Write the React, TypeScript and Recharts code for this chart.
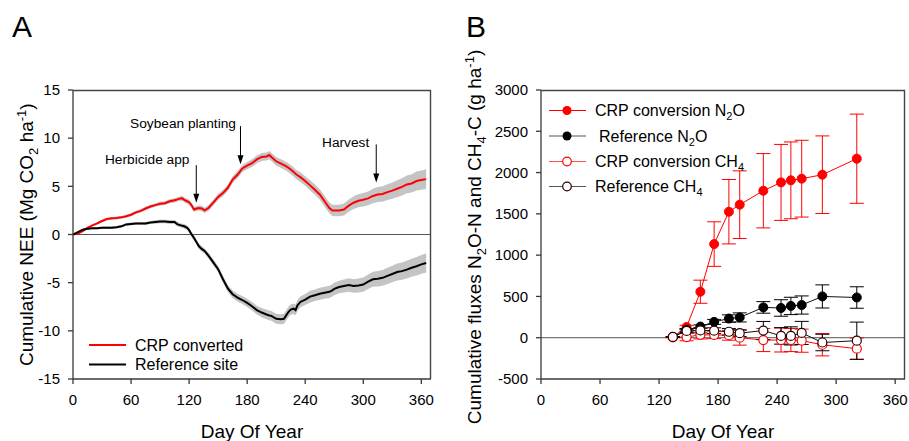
import React from 'react';
import {
  ComposedChart,
  Line,
  Area,
  XAxis,
  YAxis,
  ReferenceLine,
  ReferenceDot,
  ErrorBar,
} from 'recharts';

const FONT = '"Liberation Sans", Arial, Helvetica, sans-serif';

// ---------- Panel A: cumulative NEE ----------
const neeDays = [
  0, 5, 10, 15, 20, 25, 30, 35, 40, 45,
  50, 55, 60, 65, 70, 75, 80, 85, 90, 95,
  100, 105, 108, 110, 113, 115, 118, 120, 122, 123,
  125, 128, 130, 133, 136, 140, 145, 150, 155, 160,
  165, 170, 175, 180, 185, 190, 195, 200, 203, 205,
  210, 215, 218, 220, 223, 225, 228, 230, 232, 235,
  240, 245, 250, 255, 260, 265, 268, 270, 275, 280,
  285, 290, 295, 300, 305, 310, 315, 320, 325, 330,
  335, 340, 345, 350, 355, 360, 365,
];

const crpNee = [
  0, 0.1, 0.35, 0.7, 0.95, 1.15, 1.4, 1.6, 1.68, 1.72,
  1.78, 1.9, 2.05, 2.3, 2.45, 2.7, 2.9, 3.05, 3.2, 3.25,
  3.45, 3.55, 3.65, 3.72, 3.75, 3.6, 3.45, 3.35, 3.1, 2.95,
  2.6, 2.7, 2.75, 2.7, 2.5, 2.75, 3.3, 3.9, 4.3, 4.85,
  5.7, 6.2, 6.85, 7.15, 7.4, 7.8, 8.05, 8.1, 8.25, 8.05,
  7.6, 7.35, 7.2, 7.1, 6.9, 6.75, 6.5, 6.3, 6.15, 5.95,
  5.55, 5.1, 4.65, 4.15, 3.45, 2.75, 2.5, 2.5, 2.5, 2.6,
  3.0, 3.3, 3.5, 3.6, 3.75, 4.0, 4.15, 4.2, 4.4, 4.55,
  4.75, 4.95, 5.2, 5.3, 5.55, 5.65, 5.75,
];

const refNee = [
  0, 0.25, 0.5, 0.6, 0.65, 0.65, 0.7, 0.7, 0.7, 0.75,
  0.85, 1.05, 1.1, 1.15, 1.15, 1.15, 1.25, 1.3, 1.35, 1.35,
  1.3, 1.3, 1.05, 1.0, 0.9, 0.85, 0.7, 0.45, 0.1, -0.05,
  -0.35, -0.85, -1.2, -1.5, -1.7, -2.2, -2.9, -3.6, -4.65, -5.6,
  -6.2, -6.55, -6.8, -7.1, -7.45, -7.85, -8.1, -8.3, -8.4, -8.45,
  -8.75, -8.8, -8.75, -8.45, -8.0, -7.8, -7.7, -7.85, -7.35, -7.0,
  -6.75, -6.45, -6.3, -6.15, -6.05, -5.95, -5.8, -5.65, -5.45, -5.35,
  -5.25, -5.35, -5.3, -5.2, -4.9, -4.65, -4.6, -4.5, -4.3, -4.1,
  -3.9, -3.8, -3.65, -3.45, -3.3, -3.1, -2.95,
];

const crpNeeSd = [
  0, 0.05, 0.08, 0.1, 0.1, 0.12, 0.12, 0.12, 0.14, 0.14,
  0.15, 0.15, 0.15, 0.16, 0.16, 0.18, 0.18, 0.18, 0.2, 0.2,
  0.2, 0.22, 0.22, 0.22, 0.24, 0.24, 0.25, 0.25, 0.25, 0.26,
  0.26, 0.27, 0.27, 0.28, 0.28, 0.3, 0.3, 0.32, 0.32, 0.34,
  0.35, 0.36, 0.37, 0.38, 0.4, 0.4, 0.42, 0.42, 0.43, 0.43,
  0.44, 0.45, 0.45, 0.46, 0.46, 0.47, 0.47, 0.48, 0.48, 0.5,
  0.5, 0.52, 0.53, 0.55, 0.56, 0.58, 0.58, 0.6, 0.6, 0.62,
  0.64, 0.66, 0.68, 0.7, 0.72, 0.75, 0.78, 0.8, 0.82, 0.85,
  0.88, 0.9, 0.92, 0.95, 0.98, 1.0, 1.02,
];

const refNeeSd = [
  0, 0.05, 0.08, 0.1, 0.1, 0.1, 0.12, 0.12, 0.12, 0.12,
  0.14, 0.14, 0.15, 0.15, 0.15, 0.16, 0.16, 0.18, 0.18, 0.18,
  0.2, 0.2, 0.22, 0.22, 0.22, 0.24, 0.24, 0.25, 0.25, 0.25,
  0.26, 0.26, 0.27, 0.28, 0.28, 0.3, 0.32, 0.33, 0.35, 0.36,
  0.38, 0.4, 0.42, 0.43, 0.45, 0.46, 0.48, 0.5, 0.5, 0.5,
  0.52, 0.52, 0.53, 0.53, 0.54, 0.54, 0.55, 0.55, 0.56, 0.56,
  0.58, 0.6, 0.6, 0.62, 0.62, 0.64, 0.64, 0.65, 0.66, 0.68,
  0.7, 0.7, 0.72, 0.74, 0.76, 0.78, 0.8, 0.82, 0.84, 0.86,
  0.88, 0.9, 0.92, 0.94, 0.96, 0.98, 1.0,
];

const dayTicks = [0, 60, 120, 180, 240, 300, 360];
const neeTicks = [-15, -10, -5, 0, 5, 10, 15];

const events = [
  { label: 'Herbicide app', day: 127.4, from: 7.2, to: 3.3, textDay: 76.7, textY: 7.27 },
  { label: 'Soybean planting', day: 173.1, from: 11.25, to: 7.3, textDay: 113.7, textY: 11.04 },
  { label: 'Harvest', day: 313.4, from: 9.35, to: 5.4, textDay: 281.8, textY: 9.07 },
];

// ---------- Panel B: cumulative N2O / CH4 fluxes ----------
const fluxDays = [134, 148, 162, 176, 191, 202, 226, 244, 254, 265, 286, 321];
const crpN2O = [10, 130, 557, 1134, 1526, 1611, 1780, 1881, 1906, 1926, 1974, 2168];
const crpN2OErr = [5, 20, 140, 270, 390, 410, 450, 460, 465, 465, 470, 540];
const refN2O = [8, 95, 135, 192, 232, 246, 367, 360, 385, 396, 500, 487];
const refN2OErr = [5, 15, 20, 30, 45, 55, 70, 100, 105, 110, 140, 130];
const crpCH4 = [5, 8, 35, 34, 30, 0, -28, -28, -28, -36, -85, -133];
const crpCH4Err = [5, 45, 50, 45, 60, 90, 140, 145, 140, 140, 135, 130];
const refCH4 = [10, 82, 88, 85, 72, 55, 87, 22, 22, 58, -58, -36];
const refCH4Err = [5, 20, 30, 35, 40, 40, 110, 100, 110, 140, 100, 225];
const fluxTicks = [-500, 0, 500, 1000, 1500, 2000, 2500, 3000];

const neeData = neeDays.map((d, i) => ({
  day: d,
  crp: crpNee[i],
  ref: refNee[i],
  crpBand: [crpNee[i] - crpNeeSd[i], crpNee[i] + crpNeeSd[i]],
  refBand: [refNee[i] - refNeeSd[i], refNee[i] + refNeeSd[i]],
}));

const fluxData = fluxDays.map((d, i) => ({
  day: d,
  crpN2O: crpN2O[i],
  crpN2OErr: crpN2OErr[i],
  refN2O: refN2O[i],
  refN2OErr: refN2OErr[i],
  crpCH4: crpCH4[i],
  crpCH4Err: crpCH4Err[i],
  refCH4: refCH4[i],
  refCH4Err: refCH4Err[i],
}));

const AXIS = '#3a3a3a';
const tickStyle = { fill: '#000', fontSize: 15, fontFamily: FONT };

const ArrowHead = (props: any) => {
  const { cx, cy } = props;
  if (cx == null || cy == null) return <g />;
  return <path d={`M${cx - 3},${cy - 9} L${cx + 3},${cy - 9} L${cx},${cy} Z`} fill="#000" />;
};

const makeLabel = (text: string) => (props: any) => {
  const { cx, cy } = props;
  if (cx == null || cy == null) return <g />;
  return (
    <text x={cx} y={cy} textAnchor="middle" fontSize={13.7} fontFamily={FONT} fill="#000">
      {text}
    </text>
  );
};

const PanelA = () => (
  <ComposedChart
    width={455}
    height={441}
    data={neeData}
    margin={{ top: 90, right: 24, bottom: 12, left: 13 }}
  >
    <XAxis
      type="number"
      dataKey="day"
      domain={[0, 370]}
      ticks={dayTicks}
      allowDataOverflow
      tickSize={5}
      tickMargin={10}
      height={50}
      stroke={AXIS}
      strokeWidth={1.3}
      tick={tickStyle}
    />
    <YAxis
      type="number"
      domain={[-15, 15]}
      ticks={neeTicks}
      allowDataOverflow
      width={60}
      tickSize={5}
      tickMargin={8}
      stroke={AXIS}
      strokeWidth={1.3}
      tick={tickStyle}
    />
    <ReferenceLine y={0} stroke="#555" strokeWidth={1} />
    <Area
      dataKey="crpBand"
      stroke="none"
      fill="#c4c4c4"
      fillOpacity={1}
      isAnimationActive={false}
      activeDot={false}
    />
    <Area
      dataKey="refBand"
      stroke="none"
      fill="#c4c4c4"
      fillOpacity={1}
      isAnimationActive={false}
      activeDot={false}
    />
    <Line dataKey="crp" stroke="#ff0000" strokeWidth={2} dot={false} isAnimationActive={false} />
    <Line dataKey="ref" stroke="#000" strokeWidth={2} dot={false} isAnimationActive={false} />
    {events.map((e) => (
      <ReferenceLine
        key={e.label + 'l'}
        segment={[
          { x: e.day, y: e.from },
          { x: e.day, y: e.to + 0.6 },
        ]}
        stroke="#000"
        strokeWidth={1}
      />
    ))}
    {events.map((e) => (
      <ReferenceDot key={e.label + 'a'} x={e.day} y={e.to} r={0} shape={ArrowHead} />
    ))}
    {events.map((e) => (
      <ReferenceDot key={e.label + 't'} x={e.textDay} y={e.textY} r={0} shape={makeLabel(e.label)} />
    ))}
  </ComposedChart>
);

const PanelB = () => (
  <ComposedChart
    width={454}
    height={441}
    data={fluxData}
    margin={{ top: 90, right: 4, bottom: 12, left: 16 }}
  >
    <XAxis
      type="number"
      dataKey="day"
      domain={[0, 370]}
      ticks={dayTicks}
      allowDataOverflow
      tickSize={5}
      tickMargin={10}
      height={50}
      stroke={AXIS}
      strokeWidth={1.3}
      tick={tickStyle}
    />
    <YAxis
      type="number"
      domain={[-500, 3000]}
      ticks={fluxTicks}
      allowDataOverflow
      width={70}
      tickSize={5}
      tickMargin={8}
      stroke={AXIS}
      strokeWidth={1.3}
      tick={tickStyle}
    />
    <ReferenceLine y={0} stroke="#555" strokeWidth={1} />
    <Line
      dataKey="crpN2O"
      stroke="#ff0000"
      strokeWidth={1}
      dot={{ r: 4.5, fill: '#ff0000', stroke: '#ff0000', strokeWidth: 1 }}
      activeDot={false}
      isAnimationActive={false}
    >
      <ErrorBar dataKey="crpN2OErr" width={7} stroke="#ff0000" strokeWidth={1} direction="y" />
    </Line>
    <Line
      dataKey="refN2O"
      stroke="#111"
      strokeWidth={1}
      dot={{ r: 4.5, fill: '#000', stroke: '#000', strokeWidth: 1 }}
      activeDot={false}
      isAnimationActive={false}
    >
      <ErrorBar dataKey="refN2OErr" width={7} stroke="#000" strokeWidth={1} direction="y" />
    </Line>
    <Line
      dataKey="crpCH4"
      stroke="#ff0000"
      strokeWidth={1}
      dot={{ r: 4.5, fill: '#fff', stroke: '#ff0000', strokeWidth: 1.2 }}
      activeDot={false}
      isAnimationActive={false}
    >
      <ErrorBar dataKey="crpCH4Err" width={7} stroke="#ff0000" strokeWidth={1} direction="y" />
    </Line>
    <Line
      dataKey="refCH4"
      stroke="#111"
      strokeWidth={1}
      dot={{ r: 4.5, fill: '#fff', stroke: '#2a0000', strokeWidth: 1.2 }}
      activeDot={false}
      isAnimationActive={false}
    >
      <ErrorBar dataKey="refCH4Err" width={7} stroke="#000" strokeWidth={1} direction="y" />
    </Line>
  </ComposedChart>
);

const Overlay = () => (
  <svg
    width={909}
    height={441}
    style={{ position: 'absolute', left: 0, top: 0, pointerEvents: 'none' }}
    fontFamily={FONT}
  >
    {/* Plot frames (top and right sides) */}
    <path d="M73,90.5 H430.5 V379" fill="none" stroke="#444" strokeWidth={1.4} />
    <path d="M541,90.5 H904.5 V379" fill="none" stroke="#444" strokeWidth={1.4} />

    <text x={12} y={36.7} fontSize={30} fill="#000">A</text>
    <text x={466} y={36.7} fontSize={30} fill="#000">B</text>

    {/* Axis titles */}
    <text x={252} y={437.5} fontSize={19} textAnchor="middle" fill="#000">Day Of Year</text>
    <text x={723} y={437.5} fontSize={19} textAnchor="middle" fill="#000">Day Of Year</text>

    <text transform="translate(32.5,234.7) rotate(-90)" fontSize={19} textAnchor="middle" fill="#000">
      Cumulative NEE (Mg CO<tspan dy={5} fontSize={13}>2</tspan>
      <tspan dy={-5}> ha</tspan>
      <tspan dy={-7} fontSize={13}>-1</tspan>
      <tspan dy={7}>)</tspan>
    </text>

    <text transform="translate(480.7,237) rotate(-90)" fontSize={19} textAnchor="middle" fill="#000">
      Cumulative fluxes N<tspan dy={5} fontSize={13}>2</tspan>
      <tspan dy={-5}>O-N and CH</tspan>
      <tspan dy={5} fontSize={13}>4</tspan>
      <tspan dy={-5}>-C (g ha</tspan>
      <tspan dy={-7} fontSize={13}>-1</tspan>
      <tspan dy={7}>)</tspan>
    </text>

    {/* Legend A */}
    <line x1={89} x2={126} y1={345} y2={345} stroke="#ff0000" strokeWidth={2} />
    <text x={135} y={350.7} fontSize={16} fill="#000">CRP converted</text>
    <line x1={89} x2={126} y1={364.5} y2={364.5} stroke="#000" strokeWidth={2} />
    <text x={135} y={370} fontSize={16} fill="#000">Reference site</text>

    {/* Legend B */}
    <line x1={549} x2={586} y1={110.5} y2={110.5} stroke="#ff0000" strokeWidth={1.2} />
    <circle cx={567} cy={110.5} r={4.5} fill="#ff0000" />
    <text x={595} y={116} fontSize={16} fill="#000">
      CRP conversion N<tspan dy={4} fontSize={11}>2</tspan>
      <tspan dy={-4}>O</tspan>
    </text>

    <line x1={549} x2={586} y1={136} y2={136} stroke="#555" strokeWidth={1.2} />
    <circle cx={567} cy={136} r={4.5} fill="#000" />
    <text x={599} y={141.5} fontSize={16} fill="#000">
      Reference N<tspan dy={4} fontSize={11}>2</tspan>
      <tspan dy={-4}>O</tspan>
    </text>

    <line x1={549} x2={586} y1={161.5} y2={161.5} stroke="#ff5050" strokeWidth={1.2} />
    <circle cx={567} cy={161.5} r={4.3} fill="#fff" stroke="#ff0000" strokeWidth={1.2} />
    <text x={595} y={167} fontSize={16} fill="#000">
      CRP conversion CH<tspan dy={4} fontSize={11}>4</tspan>
    </text>

    <line x1={549} x2={586} y1={186.5} y2={186.5} stroke="#555" strokeWidth={1.2} />
    <circle cx={567} cy={186.5} r={4.3} fill="#fff" stroke="#2a0000" strokeWidth={1.2} />
    <text x={595} y={192} fontSize={16} fill="#000">
      Reference CH<tspan dy={4} fontSize={11}>4</tspan>
    </text>
  </svg>
);

export default function App() {
  return (
    <div
      style={{
        position: 'absolute',
        left: 0,
        top: 0,
        width: 909,
        height: 441,
        background: '#fff',
        fontFamily: FONT,
        overflow: 'hidden',
      }}
    >
      <div style={{ position: 'absolute', left: 0, top: 0 }}>
        <PanelA />
      </div>
      <div style={{ position: 'absolute', left: 455, top: 0 }}>
        <PanelB />
      </div>
      <Overlay />
    </div>
  );
}
